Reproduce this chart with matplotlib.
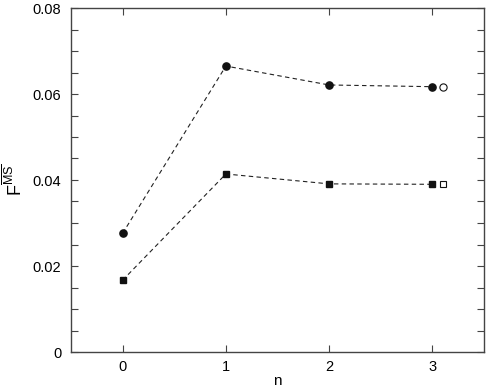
import matplotlib
matplotlib.use("Agg")
import matplotlib.pyplot as plt
from matplotlib.ticker import MultipleLocator

plt.rcParams['font.family'] = ['Liberation Sans', 'DejaVu Sans']
plt.rcParams['mathtext.fontset'] = 'custom'
plt.rcParams['mathtext.rm'] = 'Liberation Sans'
plt.rcParams['mathtext.it'] = 'Liberation Sans'

n_vals = [0, 1, 2, 3]
circle_vals = [0.0276, 0.0665, 0.0621, 0.0617]
square_vals = [0.0167, 0.0414, 0.0391, 0.0390]
open_x = [3.107]
open_circle = [0.0617]
open_square = [0.0390]
xticks = [0, 1, 2, 3]
yticks = [0, 0.02, 0.04, 0.06, 0.08]
ytick_labels = ['0', '0.02', '0.04', '0.06', '0.08']

fig = plt.figure(figsize=(4.88, 3.92), dpi=100)
ax = fig.add_axes([71/488, 1-352/392, 413/488, 344/392])

ax.plot(n_vals, circle_vals, ls=(0, (4, 3)), color='#222222', lw=0.8,
        marker='o', ms=5.2, mfc='#111111', mec='#111111')
ax.plot(n_vals, square_vals, ls=(0, (4, 3)), color='#222222', lw=0.8,
        marker='s', ms=4.8, mfc='#111111', mec='#111111')
ax.plot(open_x, open_circle, ls='none', marker='o', ms=5.2, mfc='white', mec='#111111', mew=0.8)
ax.plot(open_x, open_square, ls='none', marker='s', ms=4.8, mfc='white', mec='#111111', mew=0.8)

ax.set_xlim(-0.5, 3.5)
ax.set_ylim(0, 0.08)
ax.set_xticks(xticks)
ax.set_yticks(yticks)
ax.set_yticklabels(ytick_labels)
ax.yaxis.set_minor_locator(MultipleLocator(0.005))
ax.tick_params(which='both', direction='in', top=True, right=True, labelsize=10.5,
               color='#444444')
ax.tick_params(axis='y', pad=7)
ax.tick_params(axis='x', pad=6)
ax.tick_params(which='major', length=5, width=0.8)
ax.tick_params(which='minor', length=5, width=0.8)
for s in ax.spines.values():
    s.set_color('#444444')
    s.set_linewidth(1.0)

ax.set_xlabel('n', fontsize=11, labelpad=0)
ax.set_ylabel(r'$\mathrm{F}^{\overline{\mathrm{MS}}}$', fontsize=13, labelpad=5)

fig.savefig('out.png', dpi=100)
